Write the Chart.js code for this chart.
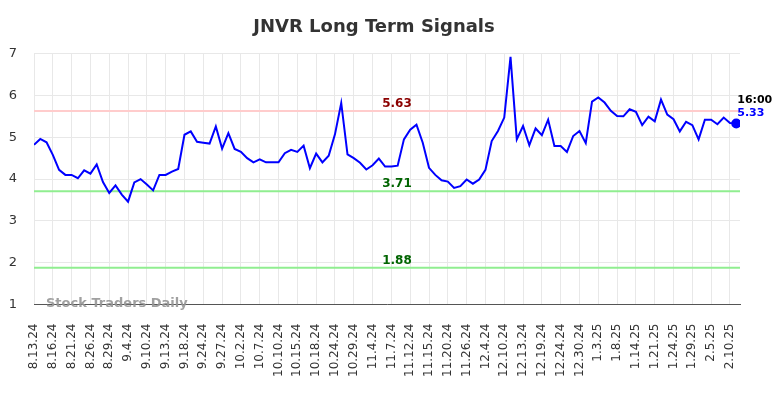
<!DOCTYPE html>
<html>
<head>
<meta charset="utf-8">
<script src="https://cdn.jsdelivr.net/npm/chart.js@4.4.0/dist/chart.umd.min.js"></script>
<style>
    html, body { margin: 0; padding: 0; background: #fff; }
    #wrap { width: 784px; height: 398px; }
</style>
</head>
<body>
<div id="wrap"><canvas id="signalChart"></canvas></div>
<script>
// trading days (every third one is shown on the axis)
const dates = [
    '8.13.24', '8.14.24', '8.15.24', '8.16.24', '8.19.24', '8.20.24',
    '8.21.24', '8.22.24', '8.23.24', '8.26.24', '8.27.24', '8.28.24',
    '8.29.24', '8.30.24', '9.3.24', '9.4.24', '9.6.24', '9.9.24',
    '9.10.24', '9.11.24', '9.12.24', '9.13.24', '9.16.24', '9.17.24',
    '9.18.24', '9.19.24', '9.23.24', '9.24.24', '9.25.24', '9.26.24',
    '9.27.24', '9.30.24', '10.1.24', '10.2.24', '10.3.24', '10.4.24',
    '10.7.24', '10.8.24', '10.9.24', '10.10.24', '10.11.24', '10.14.24',
    '10.15.24', '10.16.24', '10.17.24', '10.18.24', '10.21.24', '10.23.24',
    '10.24.24', '10.25.24', '10.28.24', '10.29.24', '10.31.24', '11.1.24',
    '11.4.24', '11.5.24', '11.6.24', '11.7.24', '11.8.24', '11.11.24',
    '11.12.24', '11.13.24', '11.14.24', '11.15.24', '11.18.24', '11.19.24',
    '11.20.24', '11.21.24', '11.25.24', '11.26.24', '11.29.24', '12.3.24',
    '12.4.24', '12.6.24', '12.9.24', '12.10.24', '12.11.24', '12.12.24',
    '12.13.24', '12.16.24', '12.18.24', '12.19.24', '12.20.24', '12.23.24',
    '12.24.24', '12.26.24', '12.27.24', '12.30.24', '12.31.24', '1.2.25',
    '1.3.25', '1.6.25', '1.7.25', '1.8.25', '1.10.25', '1.13.25',
    '1.14.25', '1.16.25', '1.17.25', '1.21.25', '1.22.25', '1.23.25',
    '1.24.25', '1.27.25', '1.28.25', '1.29.25', '1.31.25', '2.3.25',
    '2.5.25', '2.6.25', '2.7.25', '2.10.25', '2.11.25'
];

const signal = [
    4.82, 4.96, 4.88, 4.58, 4.22, 4.10, 4.10, 4.02, 4.21, 4.13,
    4.35, 3.93, 3.67, 3.85, 3.63, 3.46, 3.92, 4.00, 3.87, 3.73,
    4.10, 4.10, 4.18, 4.24, 5.06, 5.14, 4.89, 4.87, 4.85, 5.26,
    4.73, 5.10, 4.72, 4.65, 4.50, 4.40, 4.47, 4.40, 4.40, 4.40,
    4.62, 4.70, 4.65, 4.80, 4.26, 4.61, 4.40, 4.56, 5.07, 5.82,
    4.59, 4.50, 4.39, 4.23, 4.33, 4.49, 4.30, 4.30, 4.32, 4.95,
    5.18, 5.30, 4.87, 4.27, 4.10, 3.97, 3.94, 3.79, 3.83, 3.99,
    3.89, 3.99, 4.22, 4.91, 5.15, 5.47, 6.92, 4.95, 5.27, 4.81,
    5.21, 5.05, 5.42, 4.79, 4.79, 4.65, 5.03, 5.15, 4.86, 5.85,
    5.95, 5.83, 5.63, 5.51, 5.50, 5.67, 5.61, 5.29, 5.49, 5.38,
    5.90, 5.54, 5.43, 5.14, 5.37, 5.29, 4.95, 5.42, 5.42, 5.31,
    5.47, 5.34, 5.33
];

const levels = [5.63, 3.71, 1.88];
const levelLine = ['#ffcccc', '#90ee90', '#90ee90'];
const levelText = ['#8b0000', '#006400', '#006400'];
const yTicks = [1, 2, 3, 4, 5, 6, 7];
const lastTime = '16:00';

Chart.defaults.font.family = 'DejaVu Sans';
Chart.defaults.color = '#333';

const overlay = {
    id: 'overlay',
    beforeDatasetsDraw(chart) {
        const { ctx, chartArea, scales } = chart;
        ctx.save();
        ctx.lineWidth = 2;
        levels.forEach((lv, i) => {
            const y = scales.y.getPixelForValue(lv);
            ctx.strokeStyle = levelLine[i];
            ctx.beginPath();
            ctx.moveTo(chartArea.left, y);
            ctx.lineTo(chartArea.right, y);
            ctx.stroke();
        });
        ctx.restore();
    },
    afterDraw(chart) {
        const { ctx, chartArea, scales } = chart;
        ctx.save();
        // level values
        ctx.font = 'bold 12px "DejaVu Sans"';
        ctx.textAlign = 'center';
        ctx.textBaseline = 'bottom';
        const cx = (chartArea.left + chartArea.right) / 2 + 10;
        levels.forEach((lv, i) => {
            const y = scales.y.getPixelForValue(lv);
            ctx.fillStyle = levelText[i];
            ctx.fillText(lv.toFixed(2), cx, y - 1);
        });

        // watermark
        ctx.font = 'bold 13px "DejaVu Sans"';
        ctx.textAlign = 'left';
        ctx.textBaseline = 'middle';
        ctx.fillStyle = 'rgba(150,150,150,0.9)';
        ctx.fillText('Stock Traders Daily', chartArea.left + 12, chartArea.bottom - 1);

        // last value annotation
        const last = signal.length - 1;
        const px = scales.x.getPixelForValue(last);
        const py = scales.y.getPixelForValue(signal[last]);
        ctx.font = 'bold 11px "DejaVu Sans"';
        ctx.fillStyle = '#000';
        ctx.fillText(lastTime, px + 1, py - 23);
        ctx.fillStyle = '#0000ff';
        ctx.fillText(signal[last].toFixed(2), px + 1, py - 10);
        ctx.restore();
    }
};

const ctx = document.getElementById('signalChart').getContext('2d');
new Chart(ctx, {
    type: 'line',
    data: {
        datasets: [{
            data: signal.map((v, i) => ({ x: i, y: v })),
            borderColor: '#0000ff',
            backgroundColor: '#0000ff',
            borderWidth: 2,
            tension: 0,
            fill: false,
            pointRadius: signal.map((v, i) => i === signal.length - 1 ? 4 : 0),
            pointHoverRadius: 0
        }]
    },
    options: {
        responsive: true,
        maintainAspectRatio: false,
        animation: false,
        layout: {
            padding: { left: 8, right: 44, top: 0, bottom: 2 }
        },
        plugins: {
            legend: { display: false },
            tooltip: { enabled: false },
            title: {
                display: true,
                text: 'JNVR Long Term Signals',
                color: '#333',
                font: { size: 18, weight: 'bold' },
                padding: { top: 17, bottom: 15 }
            }
        },
        scales: {
            x: {
                type: 'linear',
                min: 0,
                max: signal.length - 0.4,
                afterBuildTicks: (axis) => {
                    axis.ticks = dates
                        .map((d, i) => i)
                        .filter(i => i % 3 === 0)
                        .map(i => ({ value: i }));
                },
                afterFit: (axis) => {
                    axis.paddingLeft = 0;
                    axis.paddingRight = 0;
                },
                ticks: {
                    autoSkip: false,
                    minRotation: 90,
                    maxRotation: 90,
                    padding: 19,
                    font: { size: 12 },
                    callback: (v) => dates[v]
                },
                grid: { color: '#e8e8e8', drawTicks: false },
                border: { color: '#555', width: 1 }
            },
            y: {
                min: 1,
                max: 7,
                afterBuildTicks: (axis) => {
                    axis.ticks = yTicks.map(v => ({ value: v }));
                },
                afterFit: (axis) => {
                    axis.width = 26;
                },
                ticks: {
                    padding: 17,
                    font: { size: 13 }
                },
                grid: { color: '#e8e8e8', drawTicks: false },
                border: { display: false }
            }
        }
    },
    plugins: [overlay]
});
</script>
</body>
</html>
